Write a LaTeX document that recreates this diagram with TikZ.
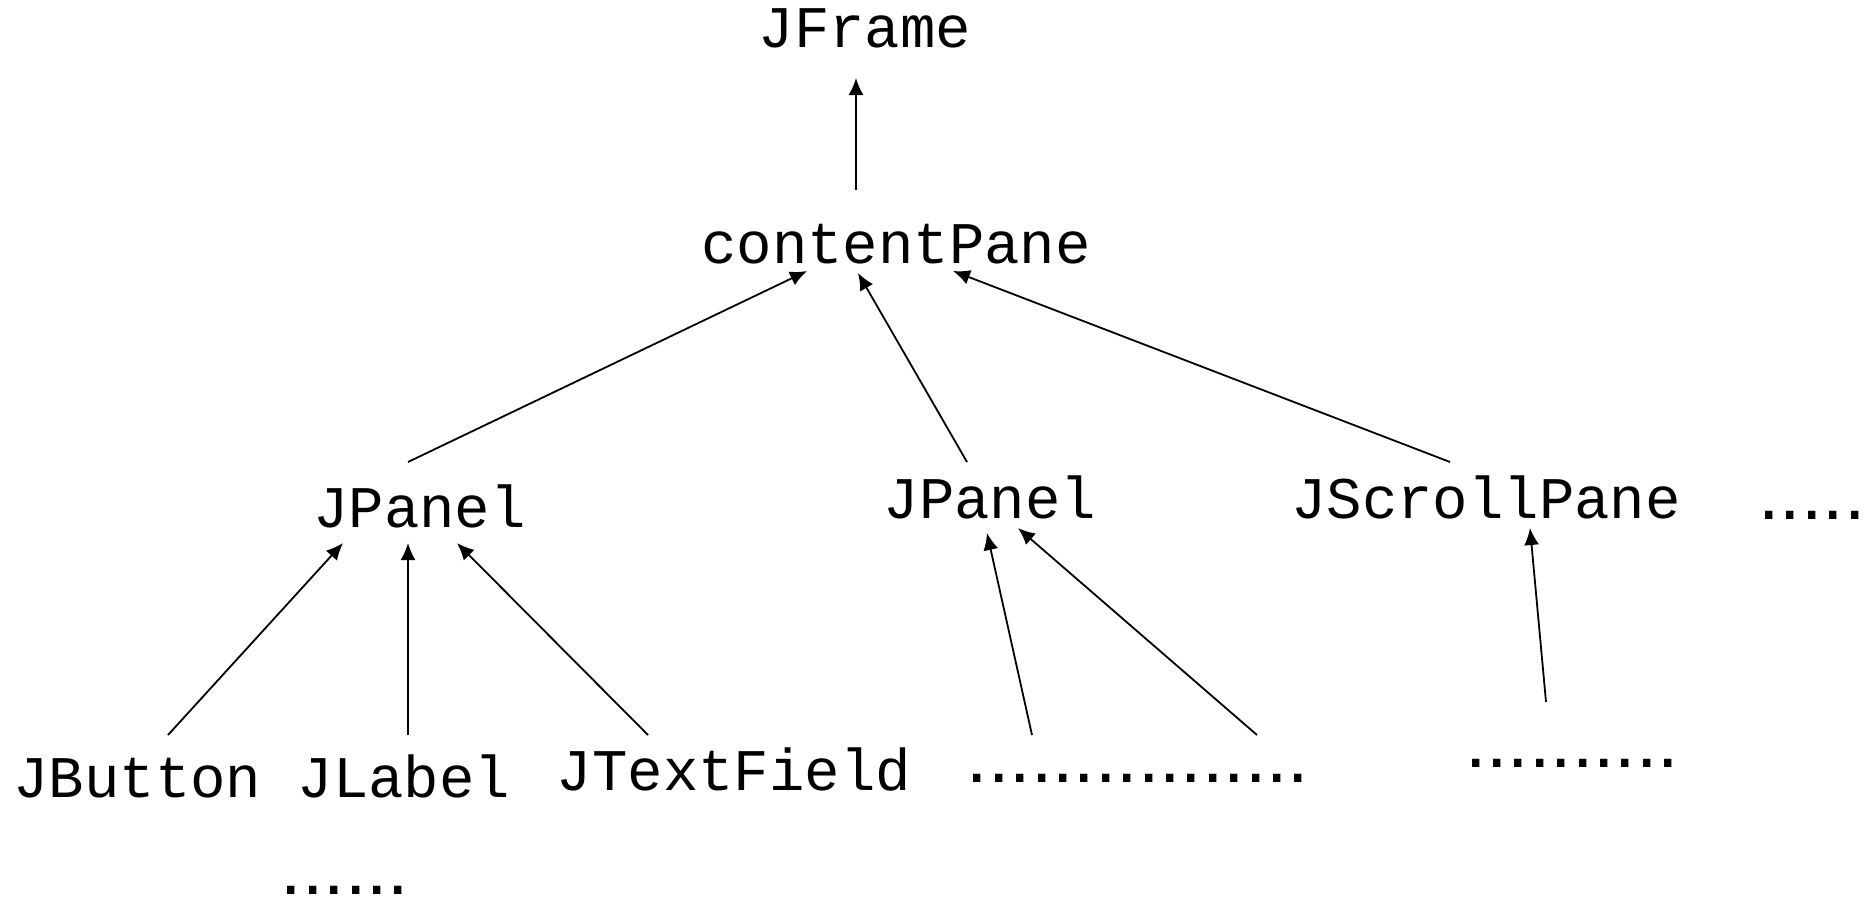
\documentclass[tikz,border=0pt]{standalone}
\usepackage{fontspec}
\setmonofont{Liberation Mono}
\newfontfamily\dotfont{Liberation Sans}
\usetikzlibrary{arrows.meta}
\tikzset{
  lbl/.style={font=\ttfamily\fontsize{59}{60}\selectfont, anchor=base, inner sep=0pt},
  dotrow/.style={font=\dotfont\fontsize{77}{80}\selectfont, anchor=base, inner sep=0pt},
  arr/.style={line width=1.8pt, -{Latex[length=17pt,width=15pt]}}
}
\begin{document}
\begin{tikzpicture}[x=1pt,y=-1pt]
\useasboundingbox (0,0) rectangle (1870,900);
\node[lbl] (frame) at (865,47) {JFrame};
\node[lbl] (content) at (896,263) {contentPane};
\node[lbl] (panelA) at (419.5,527) {JPanel};
\node[lbl] (panelB) at (990,518) {JPanel};
\node[lbl] (scroll) at (1486,518) {JScrollPane};
\node[dotrow] (moreR) at (1812,519) {.....};
\node[lbl] (button) at (137.5,797) {JButton};
\node[lbl] (label) at (404,797) {JLabel};
\node[lbl] (tfield) at (734,790) {JTextField};
\node[dotrow] (dotsB) at (1138,782) {................};
\node[dotrow] (dotsS) at (1572,767) {..........};
\node[dotrow] (dotsL) at (345,894) {......};

\draw[arr] ([shift={(-40,-73)}]content.base) -- ([shift={(-9,31)}]frame.base);
\draw[arr] ([shift={(-11.5,-65)}]panelA.base) -- ([shift={(-89,8)}]content.base);
\draw[arr] ([shift={(-23,-56)}]panelB.base) -- ([shift={(-38,10)}]content.base);
\draw[arr] ([shift={(-36,-56)}]scroll.base) -- ([shift={(57,8)}]content.base);
\draw[arr] ([shift={(30.5,-62)}]button.base) -- ([shift={(-76.5,16)}]panelA.base);
\draw[arr] ([shift={(4,-62)}]label.base) -- ([shift={(-11.5,16)}]panelA.base);
\draw[arr] ([shift={(-86,-55)}]tfield.base) -- ([shift={(37.5,16)}]panelA.base);
\draw[arr] ([shift={(-106,-47)}]dotsB.base) -- ([shift={(-3,15)}]panelB.base);
\draw[arr] ([shift={(119,-47)}]dotsB.base) -- ([shift={(28,10)}]panelB.base);
\draw[arr] ([shift={(-26,-65)}]dotsS.base) -- ([shift={(44,10)}]scroll.base);
\end{tikzpicture}
\end{document}
